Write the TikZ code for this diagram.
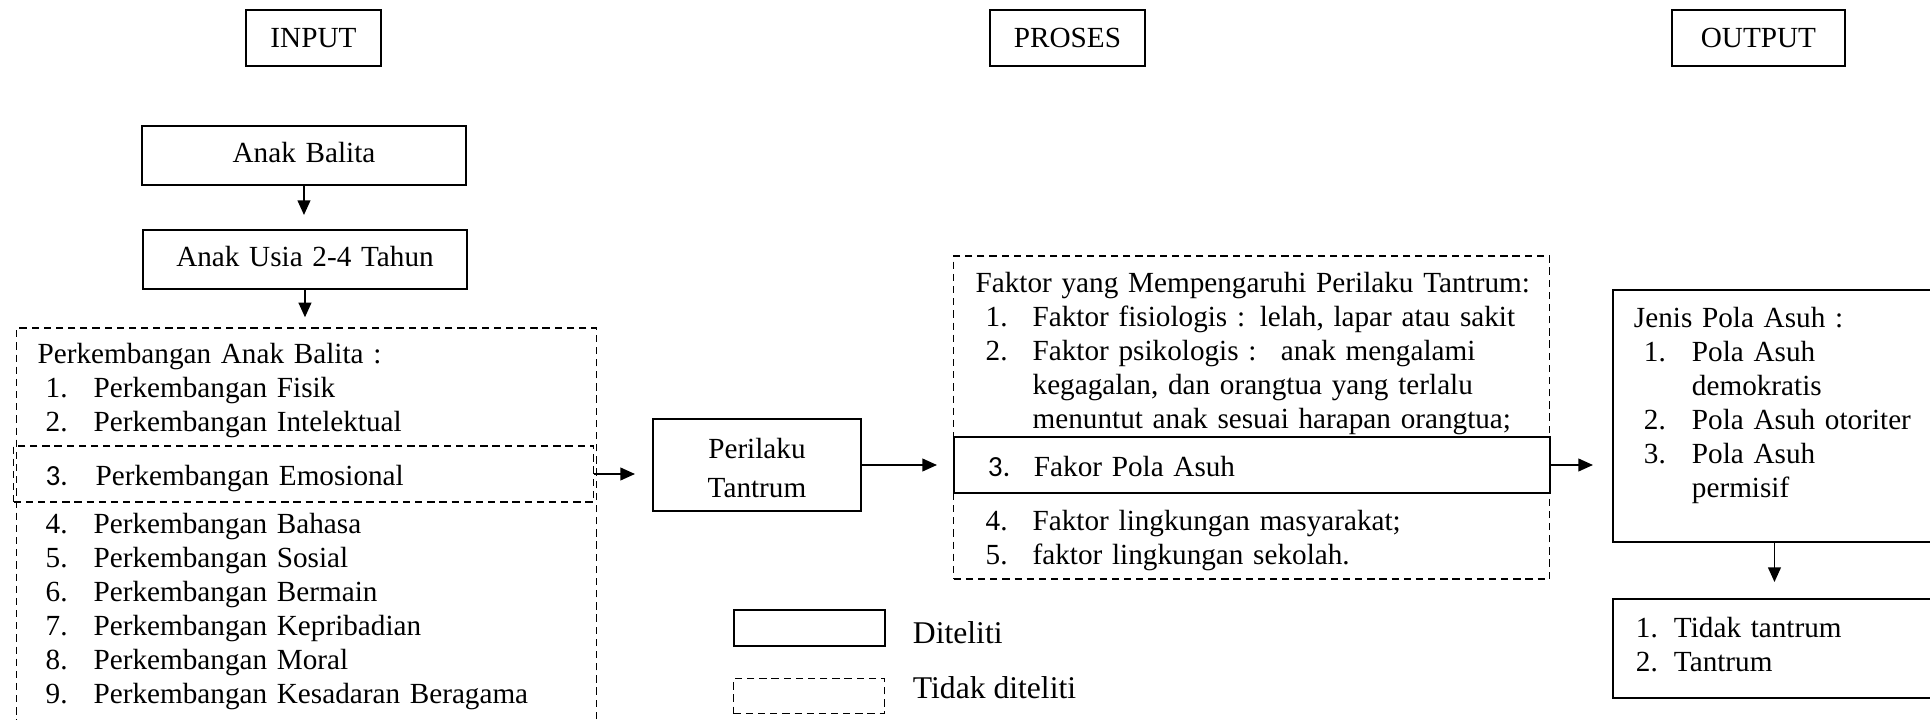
\documentclass[tikz,border=0pt]{standalone}
\usepackage{fontspec}
\setmainfont{Liberation Serif}
\newfontfamily\calibri{Carlito}
\usetikzlibrary{arrows.meta}
\newlength{\px}
\setlength{\px}{0.411pt}

\begin{document}
\begin{tikzpicture}[x=\px, y=-0.411pt, line width=0.8pt,
    >={Triangle[length=6pt,width=5.2pt]},
    kotak/.style={draw, line width=0.8pt, inner sep=0pt, anchor=base west,
      align=left, font=\fontsize{12}{14}\selectfont},
    putus/.style={kotak, line width=0.55pt, dash pattern=on 3pt off 2pt},
    judul/.style={kotak, align=center, text height=38\px, text depth=18\px},
    ket/.style={anchor=base west, inner sep=0pt, font=\fontsize{13}{15}\selectfont}]
  \useasboundingbox (0,0) rectangle (1930,720);
  % input - proses - output
  \node (input) [judul, text width=135\px] at (245,48) {INPUT};
  \node (proses) [judul, text width=155\px] at (989,48) {PROSES};
  \node (output) [judul, text width=173\px] at (1671,48) {OUTPUT};
  % input
  \node (balita) [kotak, align=center, text width=324\px, text height=37\px, text depth=22\px]
    at (141,163) {Anak Balita};
  \node (usia) [kotak, align=center, text width=324\px, text height=37\px, text depth=22\px]
    at (142,267) {Anak Usia 2-4 Tahun};
  \node (perkembangan) [putus, text width=580\px, text height=35\px, text depth=360\px] at (16,363) {%
    \begin{tabular}[t]{@{\hspace{29\px}}p{48\px}@{}l@{}}
      \multicolumn{2}{@{\hspace{21\px}}l@{}}{Perkembangan Anak Balita :}\\
      1. & Perkembangan Fisik\\
      2. & Perkembangan Intelektual\\
      & \\
      & \\
      4. & Perkembangan Bahasa\\
      5. & Perkembangan Sosial\\
      6. & Perkembangan Bermain\\
      7. & Perkembangan Kepribadian\\
      8. & Perkembangan Moral\\
      9. & Perkembangan Kesadaran Beragama
    \end{tabular}};
  \node (emosional) [putus, text width=580\px, text height=39\px, text depth=17\px] at (13,485) {%
    \begin{tabular}[t]{@{\hspace{32\px}}p{50\px}@{}l@{}}
      {\calibri 3.} & Perkembangan Emosional
    \end{tabular}};
  % proses
  \node (perilaku) [kotak, align=center, text width=208\px, text height=39\px, text depth=53\px]
    at (652,458) {\begin{tabular}[t]{@{}c@{}} Perilaku\\[5\px] Tantrum\end{tabular}};
  \node (faktor) [putus, text width=596\px, text height=36\px, text depth=287\px] at (953,292) {%
    \begin{tabular}[t]{@{\hspace{32\px}}p{47\px}@{}l@{}}
      \multicolumn{2}{@{\hspace{22\px}}l@{}}{Faktor yang Mempengaruhi Perilaku Tantrum:}\\
      1. & Faktor fisiologis : lelah, lapar atau sakit\\
      2. & Faktor psikologis : \ anak mengalami\\
      & kegagalan, dan orangtua yang terlalu\\
      & menuntut anak sesuai harapan orangtua;\\
      & \\
      & \\
      4. & Faktor lingkungan masyarakat;\\
      5. & faktor lingkungan sekolah.
    \end{tabular}};
  \node (fakor) [kotak, text width=596\px, text height=39\px, text depth=17\px] at (953,476) {%
    \begin{tabular}[t]{@{\hspace{34\px}}p{46\px}@{}l@{}}
      {\calibri 3.} & Fakor Pola Asuh
    \end{tabular}};
  % output
  \node (jenis) [kotak, text width=323\px, text height=37\px, text depth=215\px] at (1612,327) {%
    \begin{tabular}[t]{@{\hspace{31\px}}p{48\px}@{}l@{}}
      \multicolumn{2}{@{\hspace{21\px}}l@{}}{Jenis Pola Asuh :}\\
      1. & Pola Asuh\\
      & demokratis\\
      2. & Pola Asuh otoriter\\
      3. & Pola Asuh\\
      & permisif
    \end{tabular}};
  \node (hasil) [kotak, text width=323\px, text height=38\px, text depth=61\px] at (1612,637) {%
    \begin{tabular}[t]{@{\hspace{23\px}}p{38\px}@{}l@{}}
      1. & Tidak tantrum\\
      2. & Tantrum
    \end{tabular}};
  % keterangan
  \node (diteliti) [kotak, anchor=north west, minimum width=151\px, minimum height=36\px] at (733,609) {};
  \node (tdkditeliti) [putus, anchor=north west, minimum width=151\px, minimum height=35\px] at (733,678) {};
  \node (ketditeliti) [ket] at (912,643) {Diteliti};
  \node (kettdkditeliti) [ket] at (912,698) {Tidak diteliti};
  % panah
  \draw [->, shorten >=14\px] (balita.south) -- (balita.south |- usia.north);
  \draw [->, shorten >=10\px] (usia.south) -- (usia.south |- perkembangan.north);
  \draw [->, shorten >=17\px] (emosional.east) -- (emosional.east -| perilaku.west);
  \draw [->, shorten >=16\px] (perilaku.east) -- (perilaku.east -| fakor.west);
  \draw [->, shorten >=19\px] (fakor.east) -- (fakor.east -| jenis.west);
  \draw [->, shorten >=16\px] (jenis.south) -- (hasil.north);
\end{tikzpicture}
\end{document}
